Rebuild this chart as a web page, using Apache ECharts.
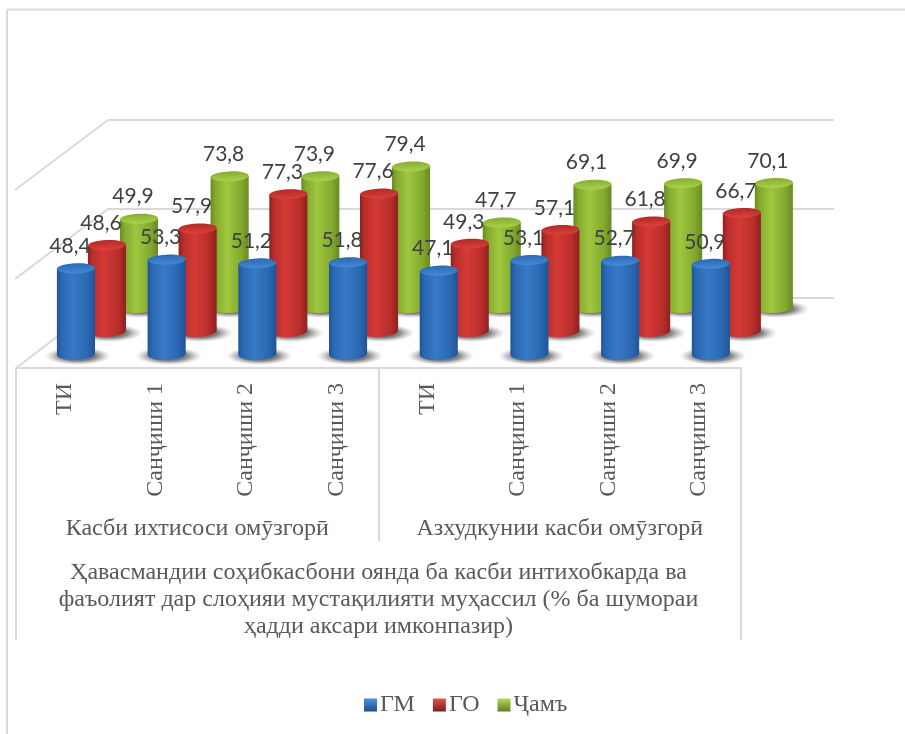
<!DOCTYPE html>
<html><head><meta charset="utf-8">
<style>html,body{margin:0;padding:0;background:#fff}#c{width:905px;height:734px}</style>
<script src="https://cdn.jsdelivr.net/npm/echarts@6/dist/echarts.min.js"></script>
</head><body><div id="c"></div>
<script>
const categories = ['ТИ','Санҷиши 1','Санҷиши 2','Санҷиши 3','ТИ','Санҷиши 1','Санҷиши 2','Санҷиши 3'];
const groups = ['Касби ихтисоси омӯзгорӣ','Азхудкунии касби омӯзгорӣ'];
const outerTitle = ['Ҳавасмандии соҳибкасбони оянда ба касби интихобкарда ва\nфаъолият дар слоҳияи мустақилияти муҳассил (% ба шумораи\nҳадди аксари имконпазир)'];
const gm = [48.4,53.3,51.2,51.8,47.1,53.1,52.7,50.9];
const go = [48.6,57.9,77.3,77.6,49.3,57.1,61.8,66.7];
const cham = [49.9,73.8,73.9,79.4,47.7,69.1,69.9,70.1];

const LINE = '#d9d9d9', TEXT = '#595959', SERIF = '"Liberation Serif", serif';
const hGrad = (e,m,h) => ({type:'linear',x:0,y:0,x2:1,y2:0,colorStops:[
  {offset:0,color:e},{offset:.12,color:m},{offset:.42,color:h},{offset:.8,color:m},{offset:1,color:e}]});
const vGrad = (a,b) => ({type:'linear',x:0,y:0,x2:0,y2:1,colorStops:[{offset:0,color:a},{offset:1,color:b}]});
const skin = {
  gm:  {body:hGrad('#1f5398','#2b68b2','#3779c6'), top:vGrad('#2a68b4','#438ad6'), legend:vGrad('#4a94e0','#1f4d87')},
  go:  {body:hGrad('#8e211f','#b72e2b','#d53a36'), top:vGrad('#b02a27','#dc403b'), legend:vGrad('#e0524d','#7f1f1d')},
  cham:{body:hGrad('#688a22','#84a92f','#9fc73f'), top:vGrad('#86ac30','#abd24a'), legend:vGrad('#b2d85a','#5f7d20')}
};
function cylinder(s){
  return function(params, api){
    const i = api.value(0), v = api.value(1);
    const top = api.coord([i,v]), base = api.coord([i,0]);
    const rx = api.size([1,0])[0]*0.21, cx = top[0], tilt = 0.035;
    return {type:'group',children:[
      {type:'circle',x:cx+2,y:base[1]+2,scaleX:3.7,shape:{cx:0,cy:0,r:9},
        style:{fill:{type:'radial',x:.5,y:.5,r:.5,colorStops:[
          {offset:0,color:'rgba(40,40,40,.9)'},{offset:.55,color:'rgba(80,80,80,.7)'},{offset:1,color:'rgba(150,150,150,0)'}]}}},
      {type:'ellipse',shape:{cx,cy:base[1],rx,ry:6},rotation:tilt,originX:cx,originY:base[1],style:{fill:s.body}},
      {type:'rect',shape:{x:cx-rx,y:top[1],width:rx*2,height:base[1]-top[1]},style:{fill:s.body}},
      {type:'ellipse',shape:{cx,cy:top[1],rx,ry:5},rotation:tilt,originX:cx,originY:top[1],style:{fill:s.top}},
      {type:'text',x:cx-6,y:top[1]-22,z2:50,style:{text:String(v).replace('.',','),align:'center',verticalAlign:'middle',
        font:'21px Lato, sans-serif',fill:'#404040'}}
    ]};
  };
}
const hiddenX = g => ({type:'category',gridIndex:g,data:categories,show:false});
const hiddenY = (g,show) => ({type:'value',gridIndex:g,min:0,max:100,interval:50,
  axisLine:{show:false},axisTick:{show:false},axisLabel:{show:false},
  splitLine:{show:!!show,lineStyle:{color:LINE,width:2}}});
const mk = (name,arr,g,s,z) => ({type:'custom',name,xAxisIndex:g,yAxisIndex:g,z,
  data:arr.map((v,i)=>[i,v]),encode:{x:0,y:1},itemStyle:{color:s.legend},renderItem:cylinder(s),clip:false,silent:true});

const chart = echarts.init(document.getElementById('c'),null,{renderer:'canvas'});
const wall = (a,b,c,d) => ({type:'line',z:0,shape:{x1:a,y1:b,x2:c,y2:d},style:{stroke:LINE,lineWidth:2}});
chart.setOption({
  animation:false,
  backgroundColor:'#fff',
  graphic:[wall(7,9.5,905,9.5),wall(7,9.5,7,734),wall(15,190,108,120),wall(15,279,108,209),wall(16,368,108,298)],
  legend:{left:359,top:688,itemWidth:13,itemHeight:13,itemGap:18,icon:'rect',selectedMode:false,
    data:['ГМ','ГО','Ҷамъ'],textStyle:{fontFamily:SERIF,fontSize:24,color:TEXT,padding:[0,0,0,-2]}},
  grid:[
    {left:30.6,top:177,width:725.6,height:177},
    {left:61.6,top:154,width:725.6,height:177},
    {left:93.6,top:130,width:725.6,height:177},
    {left:108,top:120,width:726,height:178},
    {left:16,top:300,width:725,height:68},
    {left:19.5,top:300,width:725,height:68}
  ],
  xAxis:[hiddenX(0),hiddenX(1),hiddenX(2),hiddenX(3),
    {type:'category',gridIndex:4,data:groups,position:'bottom',
      axisLine:{show:true,lineStyle:{color:LINE,width:2}},
      axisTick:{show:true,length:173,lineStyle:{color:LINE,width:2}},
      axisLabel:{margin:149,fontFamily:SERIF,fontSize:24,color:TEXT,interval:0}},
    {type:'category',gridIndex:4,data:outerTitle,position:'bottom',
      axisLine:{show:false},
      axisTick:{show:true,length:272,lineStyle:{color:LINE,width:2}},
      axisLabel:{margin:191,fontFamily:SERIF,fontSize:24,lineHeight:27,color:TEXT,interval:0}},
    {type:'category',gridIndex:5,data:categories,position:'bottom',
      axisLine:{show:false},axisTick:{show:false},
      axisLabel:{rotate:90,margin:15,fontFamily:SERIF,fontSize:24,color:TEXT,interval:0}}
  ],
  yAxis:[hiddenY(0),hiddenY(1),hiddenY(2),hiddenY(3,true),
    {type:'value',gridIndex:4,show:false},{type:'value',gridIndex:5,show:false}],
  series:[
    mk('ГМ',gm,0,skin.gm,6),
    mk('ГО',go,1,skin.go,5),
    mk('Ҷамъ',cham,2,skin.cham,4)
  ]
});
</script></body></html>
